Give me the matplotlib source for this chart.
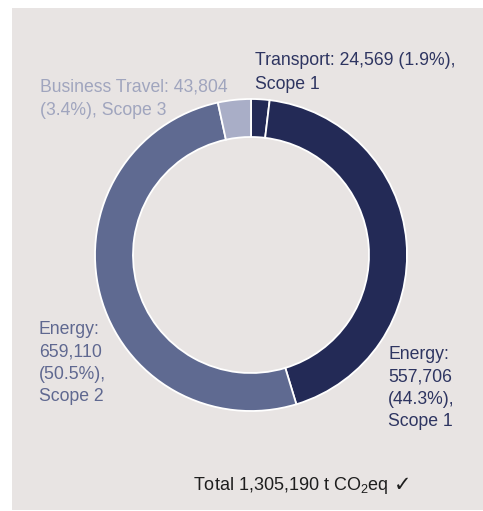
#!/usr/bin/env python3
# Donut chart: CO2eq emissions by source and scope
import matplotlib.pyplot as plt
from matplotlib.patches import Rectangle

plt.rcParams['font.family'] = ['Liberation Sans', 'DejaVu Sans']
plt.rcParams['mathtext.fontset'] = 'custom'
plt.rcParams['mathtext.rm'] = 'Liberation Sans'

# data (clockwise from 12 o'clock)
sources = ["Transport", "Energy", "Energy", "Business Travel"]
values = [24569, 557706, 659110, 43804]
shares = ["1.9%", "44.3%", "50.5%", "3.4%"]
scopes = ["Scope 1", "Scope 1", "Scope 2", "Scope 3"]
total = "1,305,190"

colors = ["#232a56", "#232a56", "#5f6a91", "#a9aec7"]
text_colors = ["#2e3561", "#2e3561", "#5f6890", "#a0a5be"]

W, H = 483, 511
fig = plt.figure(figsize=(W / 100, H / 100), dpi=100)
ax = fig.add_axes([0, 0, 1, 1])

# grey panel
ax.add_patch(Rectangle((12, 1), W - 12, H - 9, facecolor="#e8e4e3",
                       edgecolor="none", zorder=0))

ax.pie(values, colors=colors, startangle=90, counterclock=False,
       center=(251, 256), radius=156,
       wedgeprops=dict(width=38, edgecolor="white", linewidth=1.3))

ax.set_xlim(0, W)
ax.set_ylim(0, H)
ax.set_aspect("auto")
ax.axis("off")

fs = 12.7
ls = 1.42

def fmt(v):
    return f"{v:,}"

# Transport (top right)
ax.text(255, 459, f"{sources[0]}: {fmt(values[0])} ({shares[0]}),\n{scopes[0]}",
        ha="left", va="top", fontsize=fs, color=text_colors[0], linespacing=1.5)
# Business Travel (top left)
ax.text(40, 433, f"{sources[3]}: {fmt(values[3])}\n({shares[3]}), {scopes[3]}",
        ha="left", va="top", fontsize=fs, color=text_colors[3], linespacing=1.5)
# Energy scope 2 (left)
ax.text(39, 190, f"{sources[2]}:\n{fmt(values[2])}\n({shares[2]}),\n{scopes[2]}",
        ha="left", va="top", fontsize=fs, color=text_colors[2], linespacing=ls)
# Energy scope 1 (bottom right)
ax.text(388, 165, f"{sources[1]}:\n{fmt(values[1])}\n({shares[1]}),\n{scopes[1]}",
        ha="left", va="top", fontsize=fs, color=text_colors[1], linespacing=ls)

# total, with the tick mark set just after it
t = ax.text(193, 26, "Total " + total + r" t CO$_\mathregular{2}$eq",
            ha="left", va="center", fontsize=13, color="#1e1e1e")
fig.canvas.draw()
bb = t.get_window_extent()
ax.annotate("✓", xy=(bb.x1, 26), xycoords=("figure pixels", "data"),
            xytext=(4, 0), textcoords="offset points", ha="left", va="center",
            fontsize=15, color="#1e1e1e", family="DejaVu Sans")

fig.savefig("out.png", dpi=100, facecolor="white")
